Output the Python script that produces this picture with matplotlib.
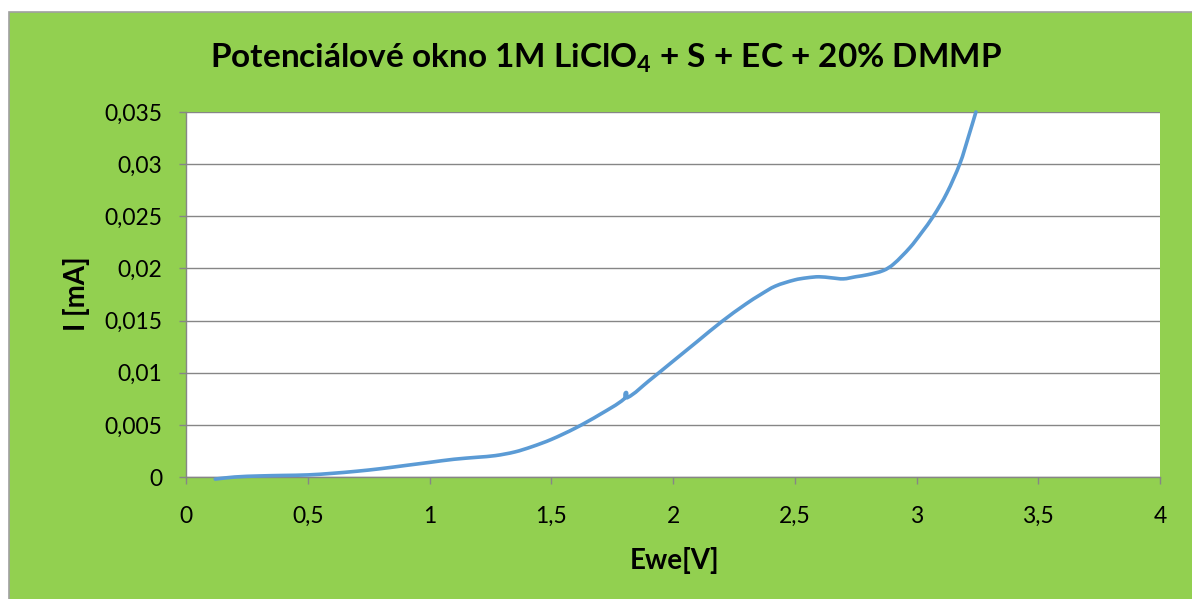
import matplotlib
matplotlib.use("Agg")
import numpy as np
import matplotlib.pyplot as plt
from matplotlib.patches import Rectangle, PathPatch
from matplotlib.path import Path

# Linear sweep voltammetry: potential window of 1M LiClO4 + S + EC + 20% DMMP
ewe = [0.12, 0.2, 0.3, 0.4, 0.5, 0.6, 0.7, 0.8, 0.9, 1.0, 1.1, 1.2, 1.27,
       1.35, 1.42, 1.5, 1.6, 1.7, 1.8, 1.807, 1.812, 1.9, 2.0, 2.1, 2.2, 2.3,
       2.36, 2.42, 2.5, 2.55, 2.6, 2.65, 2.7, 2.75, 2.8, 2.864, 2.905, 2.973,
       3.02, 3.069, 3.124, 3.179, 3.213, 3.244]
current = [-0.0002, 0.0000, 0.0001, 0.00015, 0.0002, 0.00035, 0.00055, 0.0008,
           0.0011, 0.0014, 0.0017, 0.0019, 0.00205, 0.0024, 0.0029, 0.0036,
           0.0047, 0.0060, 0.0075, 0.0081, 0.0076, 0.0092, 0.0111, 0.0130,
           0.0149, 0.0166, 0.0175, 0.0183, 0.0189, 0.0191, 0.0192, 0.0191,
           0.0190, 0.0192, 0.0194, 0.0198, 0.0204, 0.0220, 0.0234, 0.0250,
           0.0272, 0.0301, 0.0326, 0.0350]

x_ticks = [0, 0.5, 1, 1.5, 2, 2.5, 3, 3.5, 4]
x_tick_labels = ["0", "0,5", "1", "1,5", "2", "2,5", "3", "3,5", "4"]
y_ticks = [0, 0.005, 0.01, 0.015, 0.02, 0.025, 0.03, 0.035]
y_tick_labels = ["0", "0,005", "0,01", "0,015", "0,02", "0,025", "0,03", "0,035"]

title = "Potenciálové okno 1M LiClO$_4$ + S + EC + 20% DMMP"
x_label = "Ewe[V]"
y_label = "I [mA]"

GREEN = "#92D050"
LINE = "#5B9BD5"
GRID = "#868686"

plt.rcParams["font.family"] = ["Lato", "DejaVu Sans"]
plt.rcParams["mathtext.fontset"] = "custom"
plt.rcParams["mathtext.rm"] = "Lato:bold"
plt.rcParams["mathtext.it"] = "Lato:bold"


def smooth_path(ax, xs, ys):
    """Bezier path through the points, smoothed in display space."""
    pts = ax.transData.transform(np.column_stack([xs, ys]))
    n = len(pts)
    tang = np.zeros_like(pts)
    for i in range(n):
        a = pts[max(i - 1, 0)]
        b = pts[min(i + 1, n - 1)]
        d = b - a
        tang[i] = d / np.hypot(*d)
    verts = [pts[0]]
    codes = [Path.MOVETO]
    for i in range(n - 1):
        seg = np.hypot(*(pts[i + 1] - pts[i]))
        verts += [pts[i] + tang[i] * seg / 3,
                  pts[i + 1] - tang[i + 1] * seg / 3,
                  pts[i + 1]]
        codes += [Path.CURVE4] * 3
    data_verts = ax.transData.inverted().transform(np.array(verts))
    return Path(data_verts, codes)


W, H = 1192, 599
fig = plt.figure(figsize=(W / 100, H / 100), dpi=100)
fig.patch.set_facecolor("white")

# green chart-area background with a grey frame on the left and top
fig.patches.append(Rectangle((9 / W, -0.05), 1.2, (H - 12) / H + 0.05,
                             transform=fig.transFigure, facecolor=GREEN,
                             edgecolor="#A0A0A0", linewidth=1.2, zorder=-10))

ax = fig.add_axes([186 / W, (H - 477) / H, 974 / W, 365 / H])
ax.set_facecolor("white")
ax.set_xlim(0, 4)
ax.set_ylim(0, 0.035)

curve = PathPatch(smooth_path(ax, ewe, current), facecolor="none",
                  edgecolor=LINE, linewidth=2.6, capstyle="round",
                  joinstyle="round", zorder=3, clip_on=False)
ax.add_patch(curve)

ax.set_xticks(x_ticks)
ax.set_xticklabels(x_tick_labels)
ax.set_yticks(y_ticks)
ax.set_yticklabels(y_tick_labels)

ax.grid(axis="y", color=GRID, linewidth=1.0)
ax.set_axisbelow(True)
for side in ("top", "right"):
    ax.spines[side].set_visible(False)
for side in ("left", "bottom"):
    ax.spines[side].set_color(GRID)
    ax.spines[side].set_linewidth(1.0)

ax.tick_params(axis="both", direction="out", length=5, width=1.0,
               color=GRID, labelsize=16.5, labelcolor="black")
ax.tick_params(axis="y", pad=12)
ax.tick_params(axis="x", pad=16)

fig.text(606 / W, 1 - 58 / H, title, ha="center", va="center",
         fontsize=24, fontweight="bold")
fig.text(675 / W, 1 - 561 / H, x_label, ha="center", va="center",
         fontsize=20, fontweight="bold")
fig.text(77 / W, 1 - 294 / H, y_label, ha="center", va="center",
         rotation=90, fontsize=20, fontweight="bold")

fig.savefig("out.png", dpi=100, facecolor=fig.get_facecolor())
